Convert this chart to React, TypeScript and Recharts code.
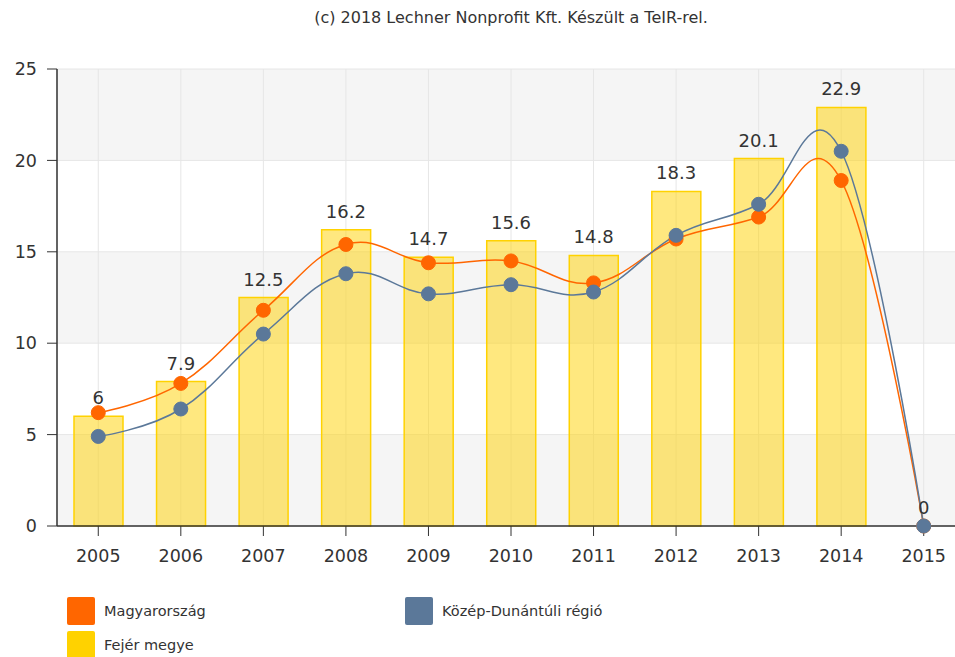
import React from 'react';
import {
  ComposedChart,
  Bar,
  Line,
  XAxis,
  YAxis,
  CartesianGrid,
  LabelList,
} from 'recharts';

const years = ['2005', '2006', '2007', '2008', '2009', '2010', '2011', '2012', '2013', '2014', '2015'];
const fejer = [6, 7.9, 12.5, 16.2, 14.7, 15.6, 14.8, 18.3, 20.1, 22.9, 0];
const magyarorszag = [6.2, 7.8, 11.8, 15.4, 14.4, 14.5, 13.3, 15.7, 16.9, 18.9, 0];
const kozepDunantul = [4.9, 6.4, 10.5, 13.8, 12.7, 13.2, 12.8, 15.9, 17.6, 20.5, 0];
const yTicks = [0, 5, 10, 15, 20, 25];

const legendItems = [
  { name: 'Magyarország', color: '#ff6600' },
  { name: 'Közép-Dunántúli régió', color: '#5b7899' },
  { name: 'Fejér megye', color: '#ffd200' },
];

const data = years.map((year, i) => ({
  year,
  fejer: fejer[i],
  orszag: magyarorszag[i],
  regio: kozepDunantul[i],
}));

const FONT = '"DejaVu Sans", Verdana, sans-serif';

// spline like the original tool: control points at 1/2.5 of neighbour distance, kept in line through the point
function splineCurve(context: any) {
  let pts: [number, number][] = [];
  return {
    areaStart() {},
    areaEnd() {},
    lineStart() {
      pts = [];
    },
    lineEnd() {
      if (!pts.length) return;
      context.moveTo(pts[0][0], pts[0][1]);
      const ctrl = pts.map((p, i) => {
        const prev = pts[i - 1];
        const next = pts[i + 1];
        if (!prev || !next) return null;
        const s = 1.5;
        const d = s + 1;
        const lx = (s * p[0] + prev[0]) / d;
        let ly = (s * p[1] + prev[1]) / d;
        const rx = (s * p[0] + next[0]) / d;
        let ry = (s * p[1] + next[1]) / d;
        if (rx !== lx) {
          const c = ((ry - ly) * (rx - p[0])) / (rx - lx) + p[1] - ry;
          ly += c;
          ry += c;
        }
        return { lx, ly, rx, ry };
      });
      for (let i = 1; i < pts.length; i++) {
        const a = ctrl[i - 1];
        const b = ctrl[i];
        const p0 = pts[i - 1];
        const p1 = pts[i];
        context.bezierCurveTo(
          a ? a.rx : p0[0],
          a ? a.ry : p0[1],
          b ? b.lx : p1[0],
          b ? b.ly : p1[1],
          p1[0],
          p1[1]
        );
      }
    },
    point(x: number, y: number) {
      pts.push([+x, +y]);
    },
  };
}

export default function App() {
  return (
    <div
      style={{
        position: 'fixed',
        left: 0,
        top: 0,
        width: 955,
        height: 657,
        overflow: 'hidden',
        background: '#fff',
        fontFamily: FONT,
      }}
    >
      <div
        style={{
          position: 'absolute',
          left: 0,
          width: 1022,
          top: 8,
          textAlign: 'center',
          fontSize: 16,
          color: '#333',
        }}
      >
        (c) 2018 Lechner Nonprofit Kft. Készült a TeIR-rel.
      </div>

      <ComposedChart
        width={965}
        height={657}
        data={data}
        margin={{ top: 69, right: 0, left: 0, bottom: 81 }}
        barCategoryGap={0}
      >
        <CartesianGrid
          stroke="#e6e6e6"
          horizontalFill={['#f5f5f5', '#ffffff']}
        />
        <XAxis
          dataKey="year"
          height={50}
          axisLine={{ stroke: '#333', strokeWidth: 1.5 }}
          tickLine={{ stroke: '#333' }}
          tickSize={10}
          tickMargin={14}
          tick={{ fill: '#333', fontSize: 17.5, fontFamily: FONT }}
          interval={0}
        />
        <YAxis
          width={57}
          domain={[0, 25]}
          ticks={yTicks}
          axisLine={{ stroke: '#333', strokeWidth: 1.5 }}
          tickLine={{ stroke: '#333' }}
          tickSize={10}
          tickMargin={10}
          tick={{ fill: '#333', fontSize: 17.5, fontFamily: FONT }}
          interval={0}
        />
        <Bar
          dataKey="fejer"
          barSize={49}
          fill="#ffd200"
          fillOpacity={0.5}
          stroke="#ffd200"
          strokeWidth={1.5}
          isAnimationActive={false}
        />
        <Line
          dataKey="orszag"
          type={splineCurve as any}
          stroke="#ff6600"
          strokeWidth={1.5}
          dot={{ r: 7, fill: '#ff6600', stroke: '#ff6600', strokeWidth: 1 }}
          activeDot={false}
          isAnimationActive={false}
        />
        <Line
          dataKey="regio"
          type={splineCurve as any}
          stroke="#5b7899"
          strokeWidth={1.5}
          dot={{ r: 7, fill: '#5b7899', stroke: '#5b7899', strokeWidth: 1 }}
          activeDot={false}
          isAnimationActive={false}
        />
        {/* value labels of the bars (also the 0 of 2015) */}
        <Line
          dataKey="fejer"
          stroke="none"
          dot={false}
          activeDot={false}
          legendType="none"
          isAnimationActive={false}
        >
          <LabelList
            dataKey="fejer"
            position="top"
            offset={12}
            fill="#333"
            fontSize={18}
            fontFamily={FONT}
          />
        </Line>
      </ComposedChart>

      {legendItems.map((item, i) => (
        <div
          key={item.name}
          style={{
            position: 'absolute',
            left: i === 1 ? 405 : 67,
            top: i === 2 ? 631 : 597,
            display: 'flex',
            alignItems: 'center',
            fontSize: 14.5,
            color: '#333',
          }}
        >
          <div
            style={{
              width: 28,
              height: 28,
              background: item.color,
              borderRadius: 2,
              marginRight: 9,
            }}
          />
          <span>{item.name}</span>
        </div>
      ))}
    </div>
  );
}
